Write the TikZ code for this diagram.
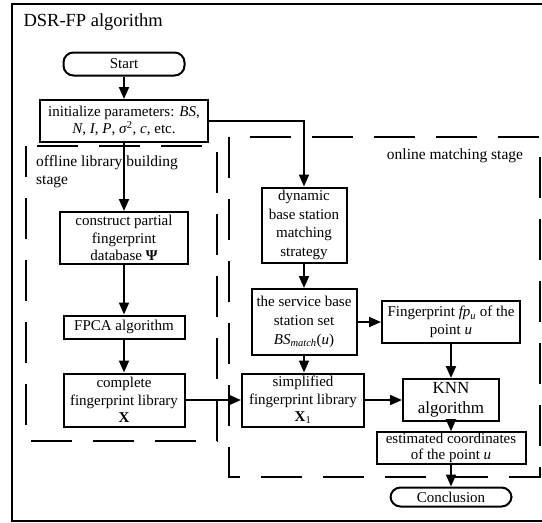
\documentclass[tikz,border=0pt]{standalone}
\usepackage{fontspec}
\setmainfont{Liberation Serif}
\usetikzlibrary{arrows.meta}

\begin{document}
\begin{tikzpicture}[x=1pt,y=-1pt,
  box/.style={draw,line width=2pt,align=center,inner sep=1pt,font=\fontsize{15}{17.5}\selectfont},
  term/.style={box,rounded corners=10pt},
  flow/.style={line width=2pt,-{Triangle[width=10pt,length=12pt]}},
  stage/.style={line width=2pt,dash pattern=on 41pt off 21pt}]
\useasboundingbox (0,0) rectangle (542,523);
% frame and title
\draw[line width=2pt] (12,4) rectangle (548,521);
\node[anchor=west,font=\fontsize{18.5}{22}\selectfont] (title) at (20,22) {DSR-FP algorithm};

% dashed stage regions
\draw[stage,dash phase=10pt] (26,146) rectangle (217,441);
\draw[stage] (229,137) rectangle (540,477);
\node[anchor=north west,align=left,inner sep=0pt,font=\fontsize{15.5}{18}\selectfont] (offlbl) at (36,155) {offline library building\\stage};
\node[font=\fontsize{15.5}{18}\selectfont] (onlbl) at (455,156) {online matching stage};

% common part
\node[term,minimum width=121pt,minimum height=23pt] (start) at (124,64) {Start};
\node[box,minimum width=168pt,minimum height=42pt] (init) at (124,121)
  {initialize parameters: \textit{BS},\\ \textit{N}, \textit{I}, \textit{P}, \textit{σ}\textsuperscript{2}, \textit{c}, etc.};

% offline stage
\node[box,minimum width=128pt,minimum height=52pt] (construct) at (124,238)
  {construct partial\\ fingerprint\\ database \textbf{Ψ}};
\node[box,minimum width=121pt,minimum height=23pt] (fpca) at (124,327) {FPCA algorithm};
\node[box,minimum width=121pt,minimum height=53pt] (complete) at (124,400)
  {complete\\ fingerprint library\\ \textbf{X}};

% online stage
\node[box,minimum width=85pt,minimum height=75pt,font=\fontsize{15}{18.5}\selectfont] (dynamic) at (304,225)
  {dynamic\\ base station\\ matching\\ strategy};
\node[box,minimum width=105pt,minimum height=66pt,font=\fontsize{15}{19}\selectfont] (service) at (304,322)
  {the service base\\ station set\\ \textit{BS}\textsubscript{\textit{match}}(\textit{u})};
\node[box,minimum width=138pt,minimum height=42pt] (finger) at (451,322)
  {Fingerprint \textit{fp}\textsubscript{\textit{u}} of the\\ point \textit{u}};
\node[box,minimum width=122pt,minimum height=53pt] (simple) at (303,400)
  {simplified\\ fingerprint library\\ \textbf{X}\textsubscript{1}};
\node[box,minimum width=96pt,minimum height=42pt,font=\fontsize{17}{20}\selectfont] (knn) at (451,400)
  {KNN\\ algorithm};
\node[box,minimum width=149pt,minimum height=30pt,font=\fontsize{15}{16}\selectfont] (est) at (451,448)
  {estimated coordinates\\ of the point \textit{u}};
\node[term,minimum width=121pt,minimum height=19pt] (concl) at (451,497) {Conclusion};

% connectors
\draw[flow] (start) -- (init);
\draw[flow] (init) -- (construct);
\draw[flow] (construct) -- (fpca);
\draw[flow] (fpca) -- (complete);
\draw[flow] (complete) -- (simple);
\draw[flow] (init.east) -| (dynamic.north);
\draw[flow] (dynamic) -- (service);
\draw[flow] (service.south) -- (service.south |- simple.north);
\draw[flow] (service) -- (finger);
\draw[flow] (finger) -- (knn);
\draw[flow] (simple) -- (knn);
\draw[flow] (knn) -- (est);
\draw[flow] (est) -- (concl);
\end{tikzpicture}
\end{document}
